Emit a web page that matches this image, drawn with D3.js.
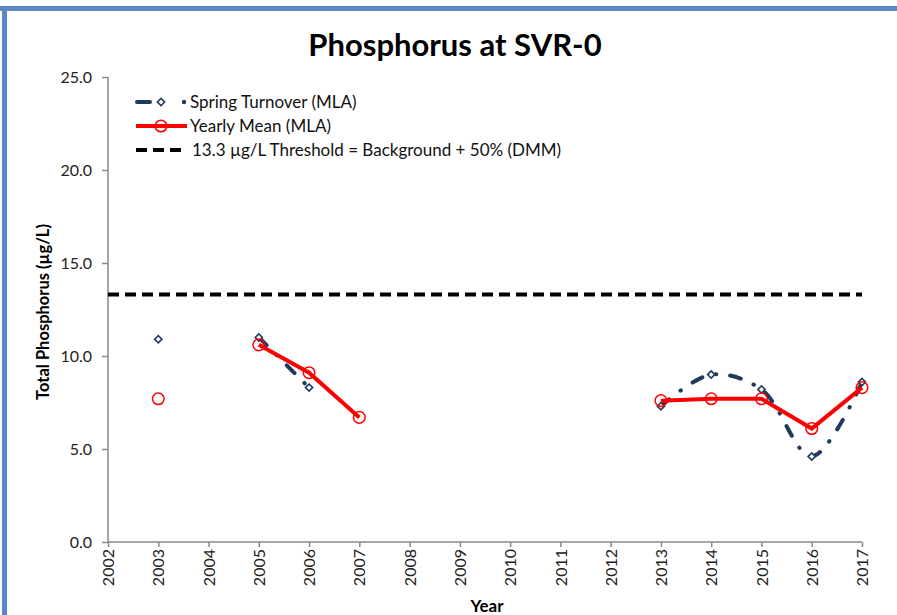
<!DOCTYPE html>
<html><head><meta charset="utf-8">
<script src="https://cdn.jsdelivr.net/npm/d3@7/dist/d3.min.js"></script>
<style>body{margin:0;background:#fff}svg{display:block}</style>
</head><body>
<script>
const years = d3.range(2002, 2018);
const springYears = [2003, 2005, 2006, 2013, 2014, 2015, 2016, 2017];
const springValues = [10.9, 11.0, 8.3, 7.3, 9.0, 8.2, 4.6, 8.6];
const meanYears = [2003, 2005, 2006, 2007, 2013, 2014, 2015, 2016, 2017];
const meanValues = [7.7, 10.6, 9.1, 6.7, 7.6, 7.7, 7.7, 6.1, 8.3];
const threshold = 13.3;
const yTicks = [0, 5, 10, 15, 20, 25];
const legendLabels = ["Spring Turnover (MLA)", "Yearly Mean (MLA)", "13.3 \u00b5g/L Threshold = Background + 50% (DMM)"];

const W = 897, H = 615;
const font = "Lato, 'Open Sans', sans-serif";
const svg = d3.select("body").append("svg").attr("width", W).attr("height", H);

// frame
svg.append("rect").attr("x", 0).attr("y", 6).attr("width", W).attr("height", 5).attr("fill", "#5b87c5");
svg.append("rect").attr("x", 2).attr("y", 6).attr("width", 5).attr("height", H).attr("fill", "#5b87c5");

const x = d3.scaleLinear().domain([2002, 2017]).range([108, 862]);
const y = d3.scaleLinear().domain([0, 25]).range([542, 77]);

svg.append("text").attr("x", 455).attr("y", 56).attr("text-anchor", "middle")
  .attr("font-family", font).attr("font-weight", "bold").attr("font-size", 31).attr("fill", "#000")
  .text("Phosphorus at SVR-0");

// y axis
const ya = svg.append("g").attr("transform", "translate(108,0)")
  .call(d3.axisLeft(y).tickValues(yTicks).tickFormat(d3.format(".1f")).tickSize(6).tickPadding(10));
ya.selectAll("path,line").attr("stroke", "#888").attr("stroke-width", 1.5);
ya.selectAll("text").attr("font-family", font).attr("font-size", 16).attr("fill", "#222");
ya.select(".domain").attr("d", "M0," + y(25) + "V" + y(0));

// x axis
const xa = svg.append("g").attr("transform", "translate(0,542)")
  .call(d3.axisBottom(x).tickValues(years).tickFormat(d3.format("d")).tickSize(5).tickPadding(6));
xa.selectAll("path,line").attr("stroke", "#888").attr("stroke-width", 1.5);
xa.select(".domain").attr("d", "M" + x(2002) + ",0H" + x(2017));
xa.selectAll("text").attr("font-family", font).attr("font-size", 16).attr("fill", "#222")
  .attr("transform", "rotate(-90)").attr("text-anchor", "end").attr("dy", "0.35em")
  .attr("x", -7).attr("y", 0);

svg.append("text").attr("x", 487).attr("y", 612).attr("text-anchor", "middle")
  .attr("font-family", font).attr("font-weight", "bold").attr("font-size", 17).text("Year");
svg.append("text").attr("transform", "translate(49,312) rotate(-90)").attr("text-anchor", "middle")
  .attr("font-family", font).attr("font-weight", "bold").attr("font-size", 16.5).text("Total Phosphorus (\u00b5g/L)");

// threshold
svg.append("line").attr("x1", x(2002)).attr("x2", x(2017)).attr("y1", y(threshold)).attr("y2", y(threshold))
  .attr("stroke", "#000").attr("stroke-width", 4).attr("stroke-dasharray", "11,6");

const navy = "#1f3a5f", red = "#ff0000";
const spring = years.map(yr => { const i = springYears.indexOf(yr); return {yr, v: i < 0 ? null : springValues[i]}; });
const mean = years.map(yr => { const i = meanYears.indexOf(yr); return {yr, v: i < 0 ? null : meanValues[i]}; });

const springLine = d3.line().defined(d => d.v !== null).x(d => x(d.yr)).y(d => y(d.v)).curve(d3.curveCatmullRom.alpha(0.5));
svg.append("path").attr("d", springLine(spring)).attr("fill", "none").attr("stroke", navy)
  .attr("stroke-width", 4).attr("stroke-dasharray", "11,14,0.5,14").attr("stroke-linecap", "round");

const diamond = d3.symbol().type(d3.symbolSquare).size(26);
svg.selectAll(".dm").data(spring.filter(d => d.v !== null)).join("path")
  .attr("transform", d => `translate(${x(d.yr)},${y(d.v)}) rotate(45)`).attr("d", diamond)
  .attr("fill", "#fff").attr("stroke", navy).attr("stroke-width", 1.6);

const meanLine = d3.line().defined(d => d.v !== null).x(d => x(d.yr)).y(d => y(d.v));
svg.append("path").attr("d", meanLine(mean)).attr("fill", "none").attr("stroke", red).attr("stroke-width", 4);
svg.selectAll(".mc").data(mean.filter(d => d.v !== null)).join("circle")
  .attr("cx", d => x(d.yr)).attr("cy", d => y(d.v)).attr("r", 5.8)
  .attr("fill", "none").attr("stroke", red).attr("stroke-width", 1.5);

// legend
const lg = svg.append("g").attr("font-family", font).attr("font-size", 17).attr("fill", "#111");
const rows = [102, 126, 150];
lg.append("line").attr("x1", 137).attr("x2", 150).attr("y1", rows[0]).attr("y2", rows[0]).attr("stroke", navy).attr("stroke-width", 4).attr("stroke-linecap", "round");
lg.append("path").attr("transform", `translate(161,${rows[0]}) rotate(45)`).attr("d", diamond).attr("fill", "#fff").attr("stroke", navy).attr("stroke-width", 1.6);
lg.append("circle").attr("cx", 184).attr("cy", rows[0]).attr("r", 2.2).attr("fill", navy);
lg.append("line").attr("x1", 136).attr("x2", 187).attr("y1", rows[1]).attr("y2", rows[1]).attr("stroke", red).attr("stroke-width", 4);
lg.append("circle").attr("cx", 161).attr("cy", rows[1]).attr("r", 5.8).attr("fill", "none").attr("stroke", red).attr("stroke-width", 1.5);
lg.append("line").attr("x1", 136).attr("x2", 186).attr("y1", rows[2]).attr("y2", rows[2]).attr("stroke", "#000").attr("stroke-width", 4).attr("stroke-dasharray", "11,6");
legendLabels.forEach((t, i) => {
  lg.append("text").attr("x", i === 2 ? 192 : 190).attr("y", rows[i]).attr("dy", "0.35em").text(t);
});
</script>
</body></html>
